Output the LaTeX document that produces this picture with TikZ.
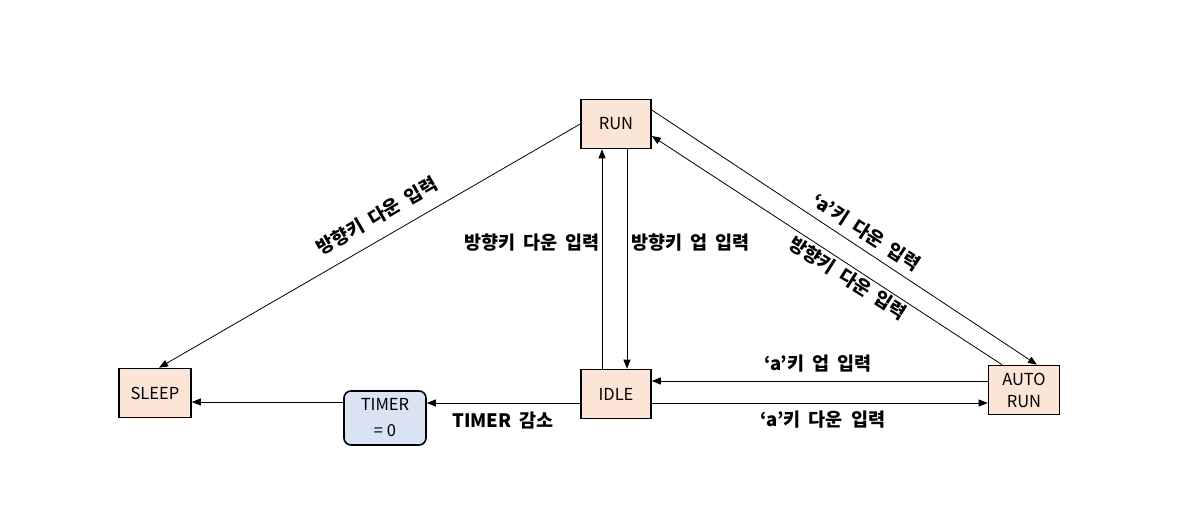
\documentclass[tikz,border=0pt]{standalone}
\usepackage{fontspec}
\setmainfont{Noto Sans CJK KR}[WordSpace=1.9]
\usetikzlibrary{arrows.meta}
\definecolor{peach}{HTML}{FBE5D6}
\definecolor{paleblue}{HTML}{DAE3F3}
\begin{document}
\begin{tikzpicture}[x=1pt,y=-1pt,
  state/.style={draw=black,line width=1.6pt,fill=peach,minimum width=70pt,minimum height=49pt,inner sep=0pt,align=center,font=\fontsize{16.5}{22}\selectfont},
  timer/.style={state,fill=paleblue,rounded corners=7pt,minimum width=82pt,minimum height=54pt,font=\fontsize{16.5}{26}\selectfont},
  arr/.style={draw=black,line width=0.8pt,-{Triangle[length=9pt,width=7pt]}},
  lab/.style={font=\bfseries\fontsize{18.5}{21}\selectfont,inner sep=1pt}]
\useasboundingbox (0,0) rectangle (1186,520);
\node[state] (RUN) at (616,124) {RUN};
\node[state,minimum width=72pt] (SLEEP) at (155,393) {SLEEP};
\node[state] (IDLE) at (616,394) {IDLE};
\node[state,minimum width=71pt] (AUTO) at (1024,390) {AUTO\\RUN};
\node[timer] (TIMER) at (385,418) {TIMER\\=\hspace{4pt}0};
% connectors
\draw[arr] (RUN.west) -- ([xshift=4pt]SLEEP.north);
\draw[arr] ([xshift=-14pt]IDLE.north) -- ([xshift=-14pt]RUN.south);
\draw[arr] ([xshift=11pt]RUN.south) -- ([xshift=11pt]IDLE.north);
\draw[arr] ([yshift=14pt]RUN.east) -- ([xshift=13pt]AUTO.north);
\draw[arr] ([xshift=-22pt]AUTO.north) -- ([yshift=-12pt]RUN.east);
\draw[arr] ([yshift=9pt]AUTO.west) -- ([yshift=9pt]AUTO.west -| IDLE.east);
\draw[arr] ([yshift=-9pt]IDLE.east) -- ([yshift=-9pt]IDLE.east -| AUTO.west);
\draw[arr] ([yshift=-9pt]IDLE.west) -- ([yshift=-9pt]IDLE.west -| TIMER.east);
\draw[arr] ([yshift=16pt]TIMER.west) -- ([yshift=16pt]TIMER.west -| SLEEP.east);
% labels
\node[lab,rotate=30] (l1) at (377,216) {방향키 다운 입력};
\node[lab,anchor=east] (l2) at (601,243) {방향키 다운 입력};
\node[lab,anchor=west] (l3) at (630,243) {방향키 업 입력};
\node[lab,rotate=-33] (l4) at (866,232) {‘a’키 다운 입력};
\node[lab,rotate=-32.5] (l5) at (848,278) {방향키 다운 입력};
\node[lab] (l6) at (818,364) {‘a’키 업 입력};
\node[lab] (l7) at (823,420) {‘a’키 다운 입력};
\node[lab] (l8) at (503,420) {TIMER 감소};
\end{tikzpicture}
\end{document}
